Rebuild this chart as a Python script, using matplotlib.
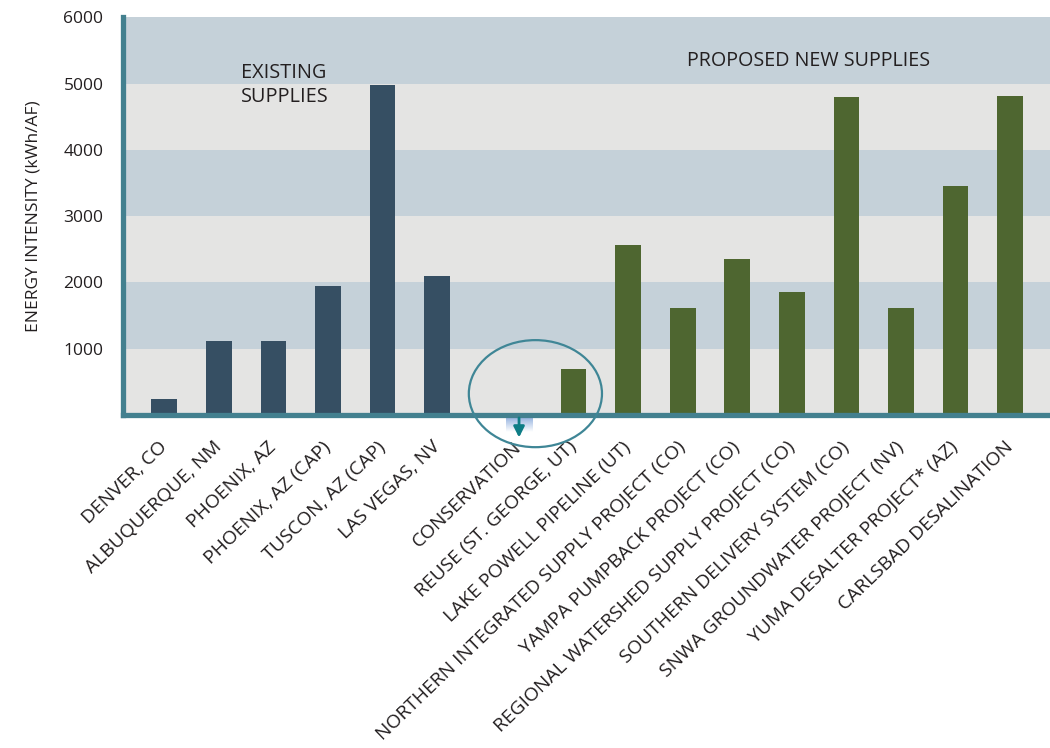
import matplotlib.pyplot as plt
import matplotlib.transforms as mtransforms
import numpy as np
from matplotlib.patches import Ellipse
from matplotlib.colors import LinearSegmentedColormap

plt.rcParams["font.family"] = ["Open Sans", "DejaVu Sans"]

existing_labels = ["DENVER, CO", "ALBUQUERQUE, NM", "PHOENIX, AZ",
                   "PHOENIX, AZ (CAP)", "TUSCON, AZ (CAP)", "LAS VEGAS, NV"]
existing_values = [250, 1120, 1120, 1950, 4980, 2105]

proposed_labels = ["CONSERVATION", "REUSE (ST. GEORGE, UT)",
                   "LAKE POWELL PIPELINE (UT)",
                   "NORTHERN INTEGRATED SUPPLY PROJECT (CO)",
                   "YAMPA PUMPBACK PROJECT (CO)",
                   "REGIONAL WATERSHED SUPPLY PROJECT (CO)",
                   "SOUTHERN DELIVERY SYSTEM (CO)",
                   "SNWA GROUNDWATER PROJECT (NV)",
                   "YUMA DESALTER PROJECT* (AZ)",
                   "CARLSBAD DESALINATION"]
proposed_values = [0, 700, 2570, 1608, 2347, 1850, 4800, 1620, 3452, 4810]

yticks = [1000, 2000, 3000, 4000, 5000, 6000]

text_col = "#231f20"
blue_bar = "#364f63"
green_bar = "#4e6630"
band_blue = "#c5d1d9"
band_gray = "#e4e4e3"
teal = "#43808f"

x_exist = np.arange(len(existing_labels))
x_prop = np.arange(len(proposed_labels)) + len(existing_labels) + 0.5

fig = plt.figure(figsize=(10.5, 7.48), dpi=100)
ax = fig.add_axes([0.117, 0.445, 0.883, 0.532])

# alternating background bands
for i, lo in enumerate(range(0, 6000, 1000)):
    ax.axhspan(lo, lo + 1000, color=band_blue if i % 2 else band_gray,
               zorder=0, lw=0)

ax.bar(x_exist, existing_values, width=0.47, color=blue_bar, zorder=2)
ax.bar(x_prop, proposed_values, width=0.47, color=green_bar, zorder=2)

ax.set_xticks(np.concatenate([x_exist, x_prop]))
ax.set_xticklabels(existing_labels + proposed_labels, rotation=44,
                   ha="right", va="center", rotation_mode="anchor",
                   fontsize=13.9, color=text_col)
shift = mtransforms.ScaledTranslation(-11 / 100, 0, fig.dpi_scale_trans)
for lab in ax.get_xticklabels():
    lab.set_transform(lab.get_transform() + shift)

ax.set_yticks(yticks)
ax.set_yticklabels([str(v) for v in yticks], fontsize=12.5, color=text_col)
ax.tick_params(axis="both", length=0)
ax.tick_params(axis="y", pad=14)
ax.tick_params(axis="x", pad=21)
ax.set_ylabel("ENERGY INTENSITY (kWh/AF)", fontsize=12.5, color=text_col,
              labelpad=16)

for side in ["top", "right"]:
    ax.spines[side].set_visible(False)
for side in ["left", "bottom"]:
    ax.spines[side].set_color(teal)
    ax.spines[side].set_linewidth(3.8)
    ax.spines[side].set_zorder(4)

ax.text(1.41, 4980, "EXISTING\nSUPPLIES", fontsize=14.3, color=text_col,
        ha="left", va="center", linespacing=1.3)
ax.text(9.58, 5340, "PROPOSED NEW SUPPLIES", fontsize=14.2, color=text_col,
        ha="left", va="center")

# highlight circle around conservation / reuse
circ = Ellipse((6.8, 324), 2.44, 1614, fill=False, edgecolor="#3f8696",
               lw=1.6, clip_on=False, zorder=5)
ax.add_patch(circ)

# gradient box and arrow below conservation
grad = np.linspace(0, 1, 50).reshape(-1, 1)
cmap = LinearSegmentedColormap.from_list("g", ["#7fa3d9", "#ffffff"])
ax.imshow(grad, cmap=cmap, extent=[6.27, 6.75, -260, 0], aspect="auto",
          clip_on=False, zorder=3, origin="upper")
ax.annotate("", xy=(6.5, -380), xytext=(6.5, 0),
            arrowprops=dict(arrowstyle="-|>", color="#0e7d86", lw=2,
                            mutation_scale=16),
            annotation_clip=False, zorder=6)
ax.set_xlim(-0.76, 16.23)
ax.set_ylim(0, 6000)

fig.savefig("out.png", dpi=100)
